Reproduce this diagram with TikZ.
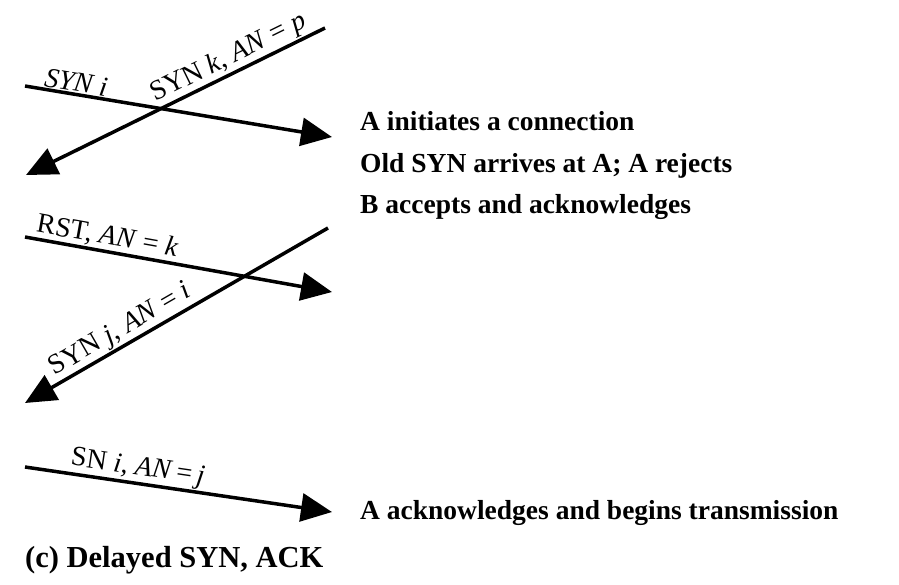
\documentclass[tikz,border=0pt]{standalone}
\usepackage{fontspec}
\setmainfont{Liberation Serif}
\usetikzlibrary{arrows.meta,positioning}

\begin{document}
\begin{tikzpicture}[
    x=1pt, y=-1pt,
    every node/.style={font=\fontsize{28}{32}\selectfont},
    msg/.style={line width=3.5pt, -{Triangle[length=31pt,width=28pt]}},
    lbl/.style={sloped, above, inner sep=1pt},
    note/.style={anchor=base west, inner sep=0pt, font=\fontsize{27.5}{32}\selectfont\bfseries}
]
\useasboundingbox (0,0) rectangle (899,584);
% EXTREMOS DE LOS MENSAJES
\coordinate (synA) at (25,86);    \coordinate (synB) at (332,137);
\coordinate (oldB) at (325,28);   \coordinate (oldA) at (26,175);
\coordinate (rstA) at (25,237);   \coordinate (rstB) at (332,292);
\coordinate (ackB) at (328,228);  \coordinate (ackA) at (25,403);
\coordinate (snA)  at (25,467);   \coordinate (snB)  at (332,512);

% MENSAJES
\draw[msg] (synA) -- node[lbl, pos=0.16] {\textit{SYN i}} (synB);
\draw[msg] (oldB) -- node[lbl, pos=0.30] {SYN \textit{k}, \textit{AN} = \textit{p}} (oldA);
\draw[msg] (rstA) -- node[lbl, pos=0.26] {RST, \textit{AN} = \textit{k}} (rstB);
\draw[msg] (ackB) -- node[lbl, pos=0.66] {SYN \textit{j}, \textit{AN} = \textit{i}} (ackA);
\draw[msg] (snA) -- node[lbl, pos=0.36] {SN \textit{i}, \textit{AN}\,=\,\textit{j}} (snB);

% EXPLICACIONES
\node[note] (n1) at (360,130) {A initiates a connection};
\node[note] (n2) at (360,172) {Old SYN arrives at A; A rejects};
\node[note] (n3) at (360,213) {B accepts and acknowledges};
\node[note] (n4) at (360,519) {A acknowledges and begins transmission};
\node[note, font=\fontsize{30.5}{34}\selectfont\bfseries] (cap) at (25,567) {(c) Delayed SYN, ACK};
\end{tikzpicture}
\end{document}
